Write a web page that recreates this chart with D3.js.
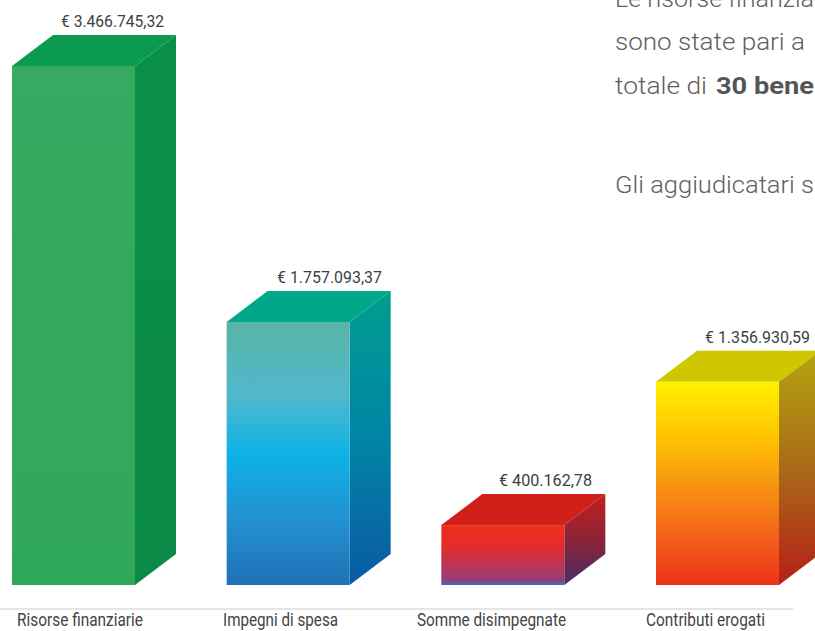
<!DOCTYPE html>
<html>
<head>
<meta charset="utf-8">
<script src="https://cdnjs.cloudflare.com/ajax/libs/d3/7.8.5/d3.min.js"></script>
<style>
html, body { margin: 0; background: #fff; overflow: hidden; }
.value { font-family: Roboto, sans-serif; font-size: 16px; fill: #3a3f42; }
.cat { font-family: Roboto, sans-serif; font-size: 18px; fill: #444; }
.para { font-family: Roboto, sans-serif; font-size: 24px; font-weight: 300; fill: #5e5e5e; }
.para.strong { font-weight: 700; fill: #555; }
</style>
</head>
<body>
<svg id="chart" width="815" height="631"></svg>
<script>
const categories = ['Risorse finanziarie', 'Impegni di spesa', 'Somme disimpegnate', 'Contributi erogati']
const amounts = [3466745.32, 1757093.37, 400162.78, 1356930.59]
const amountLabels = ['€ 3.466.745,32', '€ 1.757.093,37', '€ 400.162,78', '€ 1.356.930,59']

// colour stops of the faces, [offset, colour]
const frontStops = [
    [[0, '#36aa60'], [1, '#30a85c']],
    [[0, '#5ab4a6'], [0.28, '#50b8cc'], [0.5, '#0db3e6'], [0.75, '#2291d0'], [1, '#2170b6']],
    [[0, '#ef2f1f'], [0.35, '#e32c2a'], [0.7, '#b83658'], [0.93, '#8f3f80'], [1, '#3a70b2']],
    [[0, '#fff000'], [0.25, '#ffc800'], [0.5, '#f8960f'], [0.75, '#f3641a'], [1, '#ec331c']]
]
const sideStops = [
    [[0, '#0b9049'], [1, '#0a8a46']],
    [[0, '#009e8e'], [0.5, '#0085a6'], [1, '#0a5aa4']],
    [[0, '#c41f1e'], [0.5, '#8a2436'], [1, '#4a2c68']],
    [[0, '#b5a60f'], [0.5, '#a86a18'], [1, '#b52018']]
]
const topColors = ['#0a9a50', '#00a88a', '#d1201a', '#cfc800']

const svg = d3.select('#chart')
const depthX = 41
const depthY = 31

const xScale = d3.scaleBand()
    .domain(categories)
    .range([12, 779])
    .paddingInner(0.427)

const yScale = d3.scaleLinear()
    .domain([0, 3466745.32])
    .range([585, 66])

const defs = svg.append('defs')

function addGradient(id, stops) {
    const grad = defs.append('linearGradient')
        .attr('id', id)
        .attr('x1', 0).attr('y1', 0)
        .attr('x2', 0).attr('y2', 1)
    stops.forEach(s => {
        grad.append('stop')
            .attr('offset', s[0])
            .attr('stop-color', s[1])
    })
}

frontStops.forEach((s, i) => addGradient(`front${i}`, s))
sideStops.forEach((s, i) => addGradient(`side${i}`, s))

const bars = svg.selectAll('.bar')
    .data(amounts)
    .join('g')
    .attr('class', 'bar')

const x0 = (d, i) => xScale(categories[i])
const x1 = (d, i) => x0(d, i) + xScale.bandwidth()

// top face
bars.append('path')
    .attr('fill', (d, i) => topColors[i])
    .attr('d', (d, i) => {
        const y = yScale(d)
        return `M${x0(d, i)},${y}L${x0(d, i) + depthX},${y - depthY}L${x1(d, i) + depthX},${y - depthY}L${x1(d, i)},${y}Z`
    })

// side face
bars.append('path')
    .attr('fill', (d, i) => `url(#side${i})`)
    .attr('d', (d, i) => {
        const y = yScale(d)
        const base = yScale(0)
        return `M${x1(d, i)},${y}L${x1(d, i) + depthX},${y - depthY}L${x1(d, i) + depthX},${base - depthY}L${x1(d, i)},${base}Z`
    })

// front face
bars.append('rect')
    .attr('x', x0)
    .attr('y', d => yScale(d))
    .attr('width', xScale.bandwidth())
    .attr('height', d => yScale(0) - yScale(d))
    .attr('fill', (d, i) => `url(#front${i})`)

// the fonts here are wider than the original, so each text is fitted to its width
const valueX = [61, 277, 499, 705]
const valueW = [103, 105, 93, 105]
bars.append('text')
    .attr('class', 'value')
    .attr('x', (d, i) => valueX[i])
    .attr('y', d => yScale(d) - depthY - 8)
    .attr('textLength', (d, i) => valueW[i])
    .attr('lengthAdjust', 'spacingAndGlyphs')
    .text((d, i) => amountLabels[i])

svg.append('line')
    .attr('x1', 0).attr('x2', 793)
    .attr('y1', 609).attr('y2', 609)
    .attr('stroke', '#dcdcdc')
    .attr('stroke-width', 1.5)

const labelX = [17, 223, 417, 646]
const labelW = [126, 115, 149, 119]
svg.selectAll('.cat')
    .data(categories)
    .join('text')
    .attr('class', 'cat')
    .attr('x', (d, i) => labelX[i])
    .attr('y', 626)
    .attr('textLength', (d, i) => labelW[i])
    .attr('lengthAdjust', 'spacingAndGlyphs')
    .text(d => d)

// paragraph beside the chart, only the part the page shows
const paraLines = [
    { text: 'Le risorse finanzia', x: 615, y: 7, w: 199 },
    { text: 'sono state pari a', x: 615, y: 50, w: 190 },
    { text: 'totale di', x: 615, y: 94, w: 92 },
    { text: '30 bene', x: 716, y: 94, w: 98, strong: true },
    { text: 'Gli aggiudicatari s', x: 615, y: 193, w: 199 }
]
svg.selectAll('.para')
    .data(paraLines)
    .join('text')
    .attr('class', d => d.strong ? 'para strong' : 'para')
    .attr('x', d => d.x)
    .attr('y', d => d.y)
    .attr('textLength', d => d.w)
    .attr('lengthAdjust', 'spacingAndGlyphs')
    .text(d => d.text)
</script>
</body>
</html>
